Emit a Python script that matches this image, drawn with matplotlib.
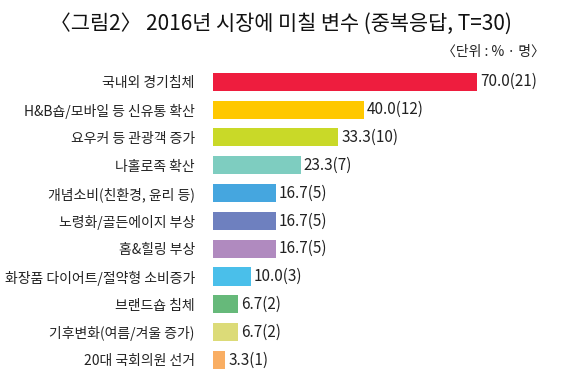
import matplotlib.pyplot as plt

plt.rcParams['font.family'] = ['Noto Sans CJK KR', 'DejaVu Sans']

labels = ['국내외 경기침체', 'H&B숍/모바일 등 신유통 확산', '요우커 등 관광객 증가', '나홀로족 확산',
          '개념소비(친환경, 윤리 등)', '노령화/골든에이지 부상', '홈&힐링 부상',
          '화장품 다이어트/절약형 소비증가', '브랜드숍 침체', '기후변화(여름/겨울 증가)', '20대 국회의원 선거']
values = [70.0, 40.0, 33.3, 23.3, 16.7, 16.7, 16.7, 10.0, 6.7, 6.7, 3.3]
counts = [21, 12, 10, 7, 5, 5, 5, 3, 2, 2, 1]
colors = ['#EE1D3E', '#FFC800', '#C9D928', '#7ECDC0', '#45A6DF', '#6E80BF',
          '#B08ABF', '#4ABFEA', '#66B97A', '#DCDB78', '#F9AE63']

fig = plt.figure(figsize=(5.66, 3.75), dpi=100)
ax = fig.add_axes([0.376, 0.003, 0.624, 0.816])

y = list(range(len(values)))
ax.barh(y, values, height=0.65, color=colors)
for i, (v, c) in enumerate(zip(values, counts)):
    ax.text(v + 0.8, i, '%.1f(%d)' % (v, c), va='center', ha='left', fontsize=11, color='#222222')

ax.set_yticks(y)
ax.set_yticklabels(labels, fontsize=10, color='#222222')
ax.tick_params(axis='y', length=0, pad=13)
ax.set_xticks([])
ax.set_xlim(0, 93.6)
ax.set_ylim(len(values) - 0.5, -0.5)
for s in ax.spines.values():
    s.set_visible(False)

fig.text(0.497, 0.937, '〈그림2〉 2016년 시장에 미칠 변수 (중복응답, T=30)', ha='center', va='center',
         fontsize=15, fontweight='medium', color='#111111')
fig.text(0.962, 0.862, '〈단위 : % · 명〉', ha='right', va='center', fontsize=10, color='#222222')

fig.savefig('out.png', dpi=100)
